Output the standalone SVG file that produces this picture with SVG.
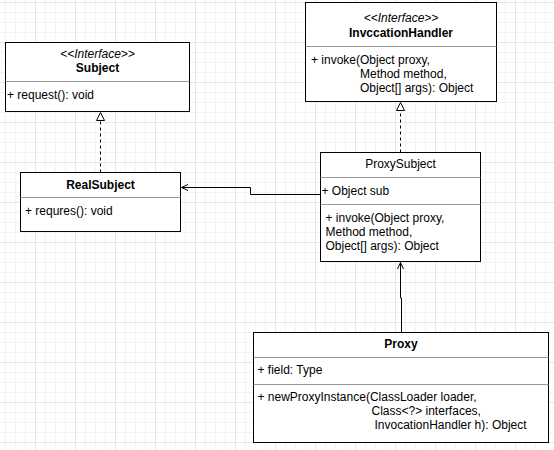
<svg xmlns="http://www.w3.org/2000/svg" width="554" height="450" viewBox="0 0 554 450">
<style>
text{font-family:"Liberation Sans",Arial,Helvetica,sans-serif;font-size:12px;fill:#000}
.b{font-weight:bold}
.i{font-style:italic}
.c{text-anchor:middle}
.box{fill:#fff;stroke:#000;stroke-width:1}
.div{stroke:#999;stroke-width:1}
.edge{fill:none;stroke:#000;stroke-width:1}
.dash{stroke-dasharray:3 3}
</style>
<defs>
<pattern id="grid" patternUnits="userSpaceOnUse" x="35" y="2" width="40" height="40">
<path d="M10.5 0V40M20.5 0V40M30.5 0V40M0 10.5H40M0 20.5H40M0 30.5H40" stroke="#f3f3f3" stroke-width="1" fill="none"/>
<path d="M0.5 0V40M0 0.5H40" stroke="#e6e6e6" stroke-width="1" fill="none"/>
</pattern>
</defs>
<rect width="554" height="450" fill="#fff"/>
<rect width="554" height="450" fill="url(#grid)"/>

<g id="connectors">
<path class="edge dash" d="M100.5 172.5V121"/>
<path class="edge" d="M100.5 112.5L96.5 120.5H104.5Z" fill="#fff" style="fill:#fff"/>
<path class="edge dash" d="M400.5 152.5V111"/>
<path class="edge" d="M400.5 102.5L396.5 110.5H404.5Z" style="fill:#fff"/>
<path class="edge" d="M320.5 194.5H250.5V187.5H181.5"/>
<path class="edge" d="M188 184.5L181.5 187.5L188 190.5"/>
<path class="edge" d="M401.5 332.5V298H400.5V262.5"/>
<path class="edge" d="M397.5 269L400.5 262.5L403.5 269"/>
</g>

<g id="Subject">
<rect class="box" x="5.5" y="42.5" width="184" height="69"/>
<line class="div" x1="5.5" y1="81.5" x2="189.5" y2="81.5"/>
<text class="i c" x="97.5" y="58">&lt;&lt;Interface&gt;&gt;</text>
<text class="b c" x="97.5" y="72">Subject</text>
<text x="7" y="99">+ request(): void</text>
</g>

<g id="InvocationHandler">
<rect class="box" x="305.5" y="2.5" width="191" height="99"/>
<line class="div" x1="305.5" y1="46.5" x2="496.5" y2="46.5"/>
<text class="i c" x="401" y="22">&lt;&lt;Interface&gt;&gt;</text>
<text class="b c" x="401" y="37">InvccationHandler</text>
<text x="311" y="64">+ invoke(Object proxy,</text>
<text x="360" y="78">Method method,</text>
<text x="360" y="92">Object[] args): Object</text>
</g>

<g id="RealSubject">
<rect class="box" x="20.5" y="172.5" width="160" height="59"/>
<line class="div" x1="20.5" y1="197.5" x2="180.5" y2="197.5"/>
<text class="b c" x="100.5" y="189">RealSubject</text>
<text x="25" y="215">+ requres(): void</text>
</g>

<g id="ProxySubject">
<rect class="box" x="320.5" y="152.5" width="160" height="109"/>
<line class="div" x1="320.5" y1="177.5" x2="480.5" y2="177.5"/>
<line class="div" x1="320.5" y1="204.5" x2="480.5" y2="204.5"/>
<text class="c" x="400.5" y="168">ProxySubject</text>
<text x="321.5" y="195">+ Object sub</text>
<text x="325.5" y="222">+ invoke(Object proxy,</text>
<text x="325.5" y="236">Method method,</text>
<text x="325.5" y="250">Object[] args): Object</text>
</g>

<g id="Proxy">
<rect class="box" x="253.5" y="332.5" width="295" height="110"/>
<line class="div" x1="253.5" y1="357.5" x2="548.5" y2="357.5"/>
<line class="div" x1="253.5" y1="384.5" x2="548.5" y2="384.5"/>
<text class="b c" x="401" y="348">Proxy</text>
<text x="257.5" y="374">+ field: Type</text>
<text x="257.5" y="401">+ newProxyInstance(ClassLoader loader,</text>
<text x="371.5" y="415">Class&lt;?&gt; interfaces,</text>
<text x="374.5" y="429">InvocationHandler h): Object</text>
</g>
</svg>
